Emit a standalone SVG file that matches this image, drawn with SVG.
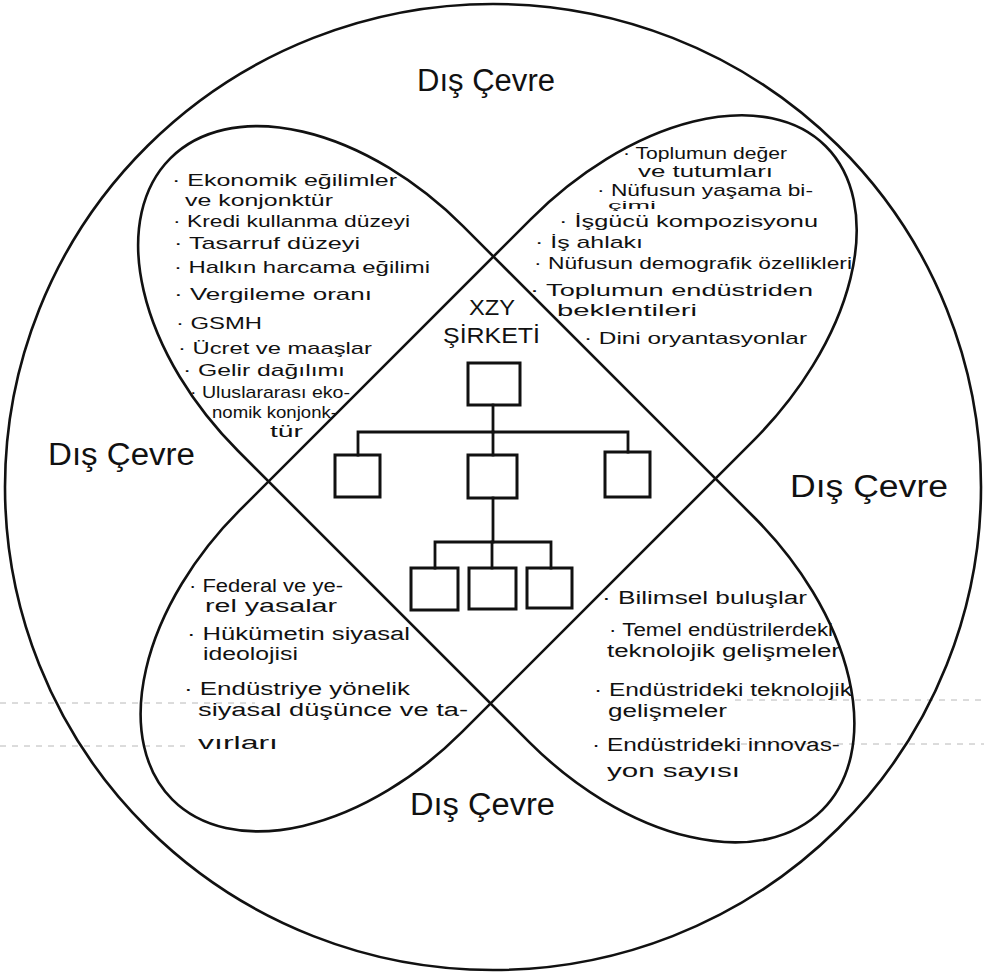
<svg xmlns="http://www.w3.org/2000/svg" width="984" height="974" viewBox="0 0 984 974">
<style>
.line{fill:none;stroke:#111;stroke-width:2.6;stroke-linecap:round;stroke-linejoin:round}
.box{fill:none;stroke:#111;stroke-width:3}
.conn{fill:none;stroke:#111;stroke-width:2.8;stroke-linecap:square}
.scan{fill:none;stroke:#b8b8b8;stroke-width:1;stroke-dasharray:6 6}
text{font-family:"Liberation Sans","DejaVu Sans",sans-serif;fill:#111}
.t{font-size:17px}
.b{font-size:18px}
.s{font-size:17px}
.lbl{font-size:31px}
.hd{font-size:22px}
</style>
<rect width="984" height="974" fill="#fff"/>
<g id="scan-marks">
<line class="scan" x1="0" y1="703" x2="255" y2="703"/>
<line class="scan" x1="735" y1="700" x2="984" y2="700"/>
<line class="scan" x1="0" y1="746" x2="185" y2="746"/>
<line class="scan" x1="705" y1="744" x2="984" y2="744"/>
</g>
<g id="outer-environment">
<ellipse class="line" cx="493" cy="487" rx="488" ry="483"/>
</g>
<g id="petal-band-tl-br">
<path class="line" transform="translate(492 480) rotate(45)" d="M -200 -159 L 212 -159 A 255 159 0 0 1 212 159 L -200 159 A 255 159 0 0 1 -200 -159 Z"/>
</g>
<g id="petal-band-tr-bl">
<path class="line" transform="translate(492 480) rotate(-45)" d="M -200 -157 L 212 -157 A 260 157 0 0 1 212 157 L -200 157 A 252 157 0 0 1 -200 -157 Z"/>
</g>
<g id="external-labels">
<text class="lbl" x="417" y="91" textLength="138" lengthAdjust="spacingAndGlyphs">Dış Çevre</text>
<text class="lbl" x="48" y="465" textLength="147" lengthAdjust="spacingAndGlyphs">Dış Çevre</text>
<text class="lbl" x="790" y="497" textLength="158" lengthAdjust="spacingAndGlyphs">Dış Çevre</text>
<text class="lbl" x="410" y="815" textLength="145" lengthAdjust="spacingAndGlyphs">Dış Çevre</text>
</g>
<g id="economic-factors">
<text class="t" x="172" y="186" textLength="225" lengthAdjust="spacingAndGlyphs">· Ekonomik eğilimler</text>
<text class="t" x="185" y="206" textLength="148" lengthAdjust="spacingAndGlyphs">ve konjonktür</text>
<text class="t" x="173" y="227" textLength="237" lengthAdjust="spacingAndGlyphs">· Kredi kullanma düzeyi</text>
<text class="t" x="174" y="249" textLength="186" lengthAdjust="spacingAndGlyphs">· Tasarruf düzeyi</text>
<text class="t" x="174" y="273" textLength="256" lengthAdjust="spacingAndGlyphs">· Halkın harcama eğilimi</text>
<text class="t" x="174" y="300" textLength="198" lengthAdjust="spacingAndGlyphs">· Vergileme oranı</text>
<text class="t" x="176" y="329" textLength="86" lengthAdjust="spacingAndGlyphs">· GSMH</text>
<text class="t" x="178" y="354" textLength="194" lengthAdjust="spacingAndGlyphs">· Ücret ve maaşlar</text>
<text class="t" x="183" y="376" textLength="162" lengthAdjust="spacingAndGlyphs">· Gelir dağılımı</text>
<text class="t" x="190" y="398" textLength="160" lengthAdjust="spacingAndGlyphs">· Uluslararası eko-</text>
<text class="t" x="212" y="418" textLength="125" lengthAdjust="spacingAndGlyphs">nomik konjonk-</text>
<text class="t" x="270" y="437" textLength="33" lengthAdjust="spacingAndGlyphs">tür</text>
</g>
<g id="social-factors">
<text class="s" x="623" y="159" textLength="164" lengthAdjust="spacingAndGlyphs">· Toplumun değer</text>
<text class="s" x="638" y="177" textLength="135" lengthAdjust="spacingAndGlyphs">ve tutumları</text>
<text class="s" x="597" y="196" textLength="216" lengthAdjust="spacingAndGlyphs">· Nüfusun yaşama bi-</text>
<text x="608" y="209" font-size="11" textLength="48" lengthAdjust="spacingAndGlyphs">çimi</text>
<text class="s" x="559" y="227" textLength="259" lengthAdjust="spacingAndGlyphs">· İşgücü kompozisyonu</text>
<text class="s" x="535" y="248" textLength="108" lengthAdjust="spacingAndGlyphs">· İş ahlakı</text>
<text class="s" x="534" y="269" textLength="318" lengthAdjust="spacingAndGlyphs">· Nüfusun demografik özellikleri</text>
<text class="s" x="530" y="296" textLength="283" lengthAdjust="spacingAndGlyphs">· Toplumun endüstriden</text>
<text class="s" x="557" y="316" textLength="140" lengthAdjust="spacingAndGlyphs">beklentileri</text>
<text class="s" x="584" y="344" textLength="223" lengthAdjust="spacingAndGlyphs">· Dini oryantasyonlar</text>
</g>
<g id="political-factors">
<text class="b" x="189" y="592" textLength="154" lengthAdjust="spacingAndGlyphs">· Federal ve ye-</text>
<text class="b" x="205" y="612" textLength="132" lengthAdjust="spacingAndGlyphs">rel yasalar</text>
<text class="b" x="187" y="640" textLength="223" lengthAdjust="spacingAndGlyphs">· Hükümetin siyasal</text>
<text class="b" x="203" y="660" textLength="95" lengthAdjust="spacingAndGlyphs">ideolojisi</text>
<text class="b" x="184" y="695" textLength="226" lengthAdjust="spacingAndGlyphs">· Endüstriye yönelik</text>
<text class="b" x="198" y="716" textLength="270" lengthAdjust="spacingAndGlyphs">siyasal düşünce ve ta-</text>
<text class="b" x="198" y="749" textLength="80" lengthAdjust="spacingAndGlyphs">vırları</text>
</g>
<g id="technological-factors">
<text class="b" x="602" y="604" textLength="205" lengthAdjust="spacingAndGlyphs">· Bilimsel buluşlar</text>
<text class="b" x="609" y="636" textLength="224" lengthAdjust="spacingAndGlyphs">· Temel endüstrilerdeki</text>
<text class="b" x="607" y="657" textLength="233" lengthAdjust="spacingAndGlyphs">teknolojik gelişmeler</text>
<text class="b" x="594" y="696" textLength="258" lengthAdjust="spacingAndGlyphs">· Endüstrideki teknolojik</text>
<text class="b" x="608" y="717" textLength="119" lengthAdjust="spacingAndGlyphs">gelişmeler</text>
<text class="b" x="592" y="751" textLength="248" lengthAdjust="spacingAndGlyphs">· Endüstrideki innovas-</text>
<text class="b" x="607" y="777" textLength="133" lengthAdjust="spacingAndGlyphs">yon sayısı</text>
</g>
<g id="company-title">
<text class="hd" x="469" y="315" textLength="46" lengthAdjust="spacingAndGlyphs">XZY</text>
<text class="hd" x="443" y="343" textLength="97" lengthAdjust="spacingAndGlyphs">ŞİRKETİ</text>
</g>
<g id="connectors">
<path class="conn" d="M 493 405 V 432"/>
<path class="conn" d="M 358 455 V 432 H 628 V 452"/>
<path class="conn" d="M 493 432 V 455"/>
<path class="conn" d="M 493 498 V 542"/>
<path class="conn" d="M 435 568 V 542 H 551 V 568"/>
<path class="conn" d="M 492 542 V 568"/>
</g>
<g id="org-top"><rect class="box" x="468" y="363" width="52" height="42"/></g>
<g id="org-mid-left"><rect class="box" x="335" y="455" width="45" height="42"/></g>
<g id="org-mid-center"><rect class="box" x="468" y="455" width="49" height="43"/></g>
<g id="org-mid-right"><rect class="box" x="605" y="452" width="45" height="45"/></g>
<g id="org-bottom-left"><rect class="box" x="411" y="568" width="47" height="42"/></g>
<g id="org-bottom-center"><rect class="box" x="469" y="568" width="47" height="41"/></g>
<g id="org-bottom-right"><rect class="box" x="527" y="568" width="45" height="40"/></g>
</svg>
